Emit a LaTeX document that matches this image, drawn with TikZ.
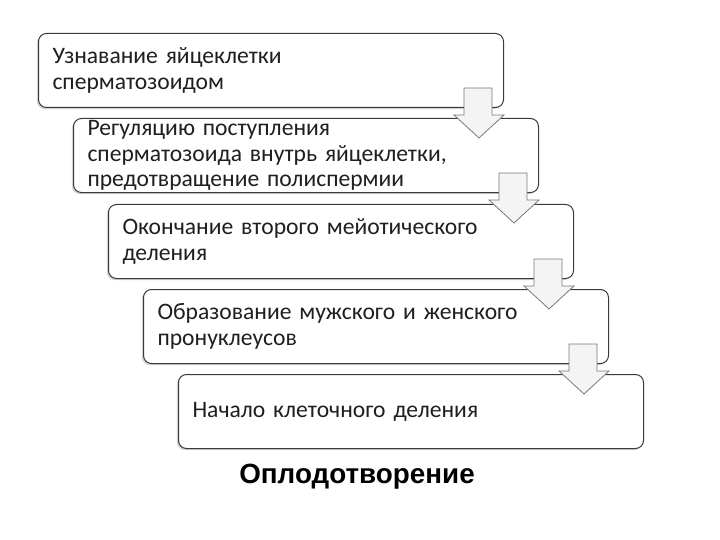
\documentclass[tikz,border=0pt]{standalone}
\usepackage{fontspec}
\setmainfont{Carlito}
\newfontfamily\titlefont{Liberation Sans}
\usetikzlibrary{shadows,calc}
\definecolor{edge}{HTML}{3A3A3A}
\definecolor{arrowedge}{HTML}{7A7A7A}
\definecolor{arrowfill}{HTML}{F4F4F4}
\tikzset{
  stepbox/.style={draw=edge, line width=1pt, rounded corners=8pt, fill=white,
    drop shadow={shadow xshift=-1.6pt, shadow yshift=-1.6pt, opacity=0.35, fill=gray},
    anchor=north west, minimum width=465pt, minimum height=74pt,
    inner xsep=14pt, inner ysep=2pt, text width=437pt, align=left,
    font=\fontsize{23.6}{25.5}\selectfont, text=black!88},
  blockarrow/.style={draw=arrowedge, line width=0.8pt, fill=arrowfill, line join=miter}
}
\begin{document}
\begin{tikzpicture}[x=1pt,y=-1pt]
\useasboundingbox (0,0) rectangle (720,540);
\node[stepbox] (b1) at (38,33) {Узнавание яйцеклетки\\сперматозоидом};
\node[stepbox] (b2) at (73,118) {Регуляцию поступления\\сперматозоида внутрь яйцеклетки,\\предотвращение полиспермии};
\node[stepbox] (b3) at (108,204) {Окончание второго мейотического\\деления};
\node[stepbox] (b4) at (143,289) {Образование мужского и женского\\пронуклеусов};
\node[stepbox] (b5) at (178,374) {Начало клеточного деления};
\foreach \b in {b1,b2,b3,b4}{
  \draw[blockarrow] ($(\b.south east)+(-40,-20)$) -- ++(28,0) -- ++(0,27) -- ++(12,0)
     -- ++(-25,23) -- ++(-25,-23) -- ++(10,0) -- cycle;
}
\node[font=\titlefont\bfseries\fontsize{27.8}{32}\selectfont, anchor=base] (title) at (357,483) {Оплодотворение};
\end{tikzpicture}
\end{document}
